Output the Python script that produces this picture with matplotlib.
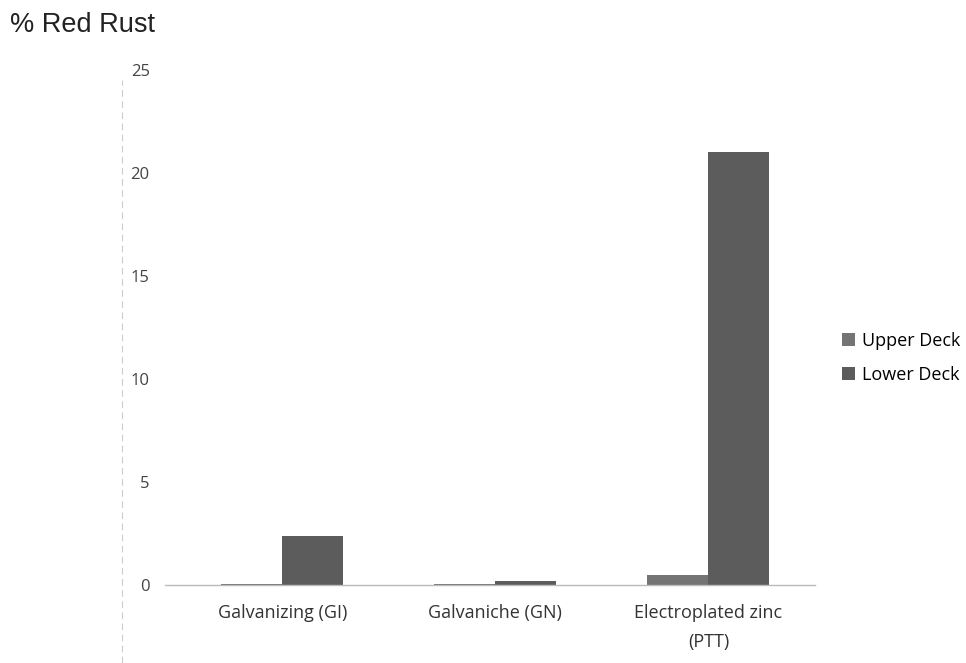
import numpy as np
import matplotlib
matplotlib.use('Agg')
import matplotlib.pyplot as plt
from matplotlib.lines import Line2D

categories = ['Galvanizing (GI)', 'Galvaniche (GN)', 'Electroplated zinc\n(PTT)']
upper_deck = [0.03, 0.03, 0.5]
lower_deck = [2.4, 0.2, 21.0]
yticks = [0, 5, 10, 15, 20, 25]

fig = plt.figure(figsize=(9.66, 6.63), dpi=100)
ax = fig.add_axes([165/966, 1-585/663, (815-165)/966, (585-70)/663])

x = np.arange(len(categories))
w = 0.286
ax.bar(x - w/2, upper_deck, width=w, color='#747474', label='Upper Deck')
ax.bar(x + w/2, lower_deck, width=w, color='#5c5c5c', label='Lower Deck')

ax.set_xlim(-0.55, 2.5)
ax.set_ylim(0, 25)
ax.set_yticks(yticks)
ax.set_xticks(x)
ax.set_xticklabels(categories, fontsize=13, color='#333333', family='Open Sans',
                   linespacing=1.75)
for lbl in ax.get_yticklabels():
    lbl.set_fontsize(12)
    lbl.set_color('#444444')
    lbl.set_family('Open Sans')
ax.tick_params(axis='y', length=0, pad=11)
ax.tick_params(axis='x', length=0, pad=14)
for s in ['top', 'right', 'left']:
    ax.spines[s].set_visible(False)
ax.spines['bottom'].set_color('#bbbbbb')
ax.spines['bottom'].set_linewidth(1.0)

# faint vertical rule left of the ticks
fig.add_artist(Line2D([122/966, 122/966], [0, 1-80/663], color='#cccccc',
                      lw=0.8, ls=(0, (6, 4))))

fig.text(10/966, 1-25/663, '% Red Rust', fontsize=19.5, family='Liberation Sans',
         va='center', ha='left', color='#222222')

fig.legend(loc='center left', bbox_to_anchor=(826/966, 1-358/663), frameon=False,
           handlelength=0.7, handleheight=0.7, handletextpad=0.4, labelspacing=0.9,
           prop={'family': 'Open Sans', 'size': 13})

fig.savefig('out.png', dpi=100)
